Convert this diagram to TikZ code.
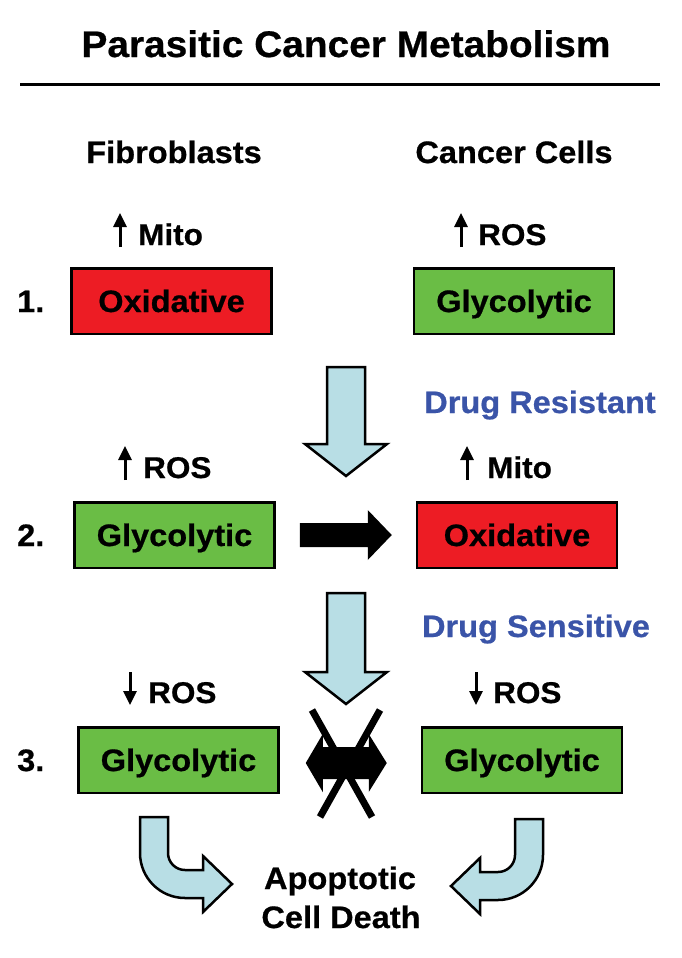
\documentclass[tikz,border=0pt]{standalone}
\usepackage{fontspec}
\setmainfont{Liberation Sans}[FakeStretch=1.05,BoldFeatures={FakeBold=0.6}]
\usetikzlibrary{arrows.meta,calc}
\definecolor{boxred}{RGB}{237,28,36}
\definecolor{boxgreen}{RGB}{106,189,69}
\definecolor{arrowblue}{RGB}{184,222,229}
\definecolor{drugblue}{RGB}{58,84,168}
\newcommand\fsz[1]{\fontsize{#1}{#1}\selectfont\bfseries}
\begin{document}
\begin{tikzpicture}[x=1pt,y=-1pt,
  box/.style={draw=black,line width=2.5pt,minimum width=200pt,minimum height=65.5pt,inner sep=0pt,text height=22pt,text depth=0pt,font=\fsz{31}},
  redbox/.style={box,fill=boxred},
  greenbox/.style={box,fill=boxgreen},
  lbl/.style={inner sep=0pt,anchor=base west,font=\fsz{30}},
  headtxt/.style={inner sep=0pt,anchor=base,font=\fsz{31}},
  num/.style={inner sep=0pt,anchor=base west,font=\fsz{31}},
  drug/.style={inner sep=0pt,anchor=base,font=\fsz{31},text=drugblue},
  smallarr/.style={line width=3pt,-{Triangle[width=13pt,length=14pt]}},
  bigarrow/.style={draw=black,line width=2.5pt,fill=arrowblue,line join=miter},
]
\fill[white] (0,0) rectangle (681,958);
\useasboundingbox (0,0) rectangle (681,958);

% title and rule
\node[headtxt,font=\fsz{37}] (title) at (346,57) {Parasitic Cancer Metabolism};
\coordinate (rl) at (20,84);
\coordinate (rr) at (660,84);
\draw[line width=3pt] (rl) -- (rr);

% column headers
\node[headtxt] (fib) at (174,163) {Fibroblasts};
\node[headtxt] (can) at (514,163) {Cancer Cells};

% row 1
\node[num] (n1) at (17,312) {1.};
\node[redbox] (o1) at (171.5,301) {Oxidative};
\node[greenbox] (g1) at (514,301) {Glycolytic};
\node[lbl] (l1a) at (138,245) {Mito};
\node[lbl] (l1b) at (478,245) {ROS};
\draw[smallarr] ([xshift=-18pt,yshift=-2pt]l1a.base west) -- ++(0,-34);
\draw[smallarr] ([xshift=-17pt,yshift=-2pt]l1b.base west) -- ++(0,-34);

\node[drug] (dres) at (540,413) {Drug Resistant};

% row 2
\node[num] (n2) at (17,546) {2.};
\node[greenbox] (g2) at (174.5,535) {Glycolytic};
\node[redbox] (o2) at (517,535) {Oxidative};
\node[lbl] (l2a) at (143,478) {ROS};
\node[lbl] (l2b) at (487,478) {Mito};
\draw[smallarr] ([xshift=-18pt,yshift=-2pt]l2a.base west) -- ++(0,-34);
\draw[smallarr] ([xshift=-20pt,yshift=-2pt]l2b.base west) -- ++(0,-34);

\node[drug] (dsen) at (536,637) {Drug Sensitive};

% row 3
\node[num] (n3) at (17,771) {3.};
\node[greenbox] (g3) at (178.5,760) {Glycolytic};
\node[greenbox] (g3b) at (522,760) {Glycolytic};
\node[lbl] (l3a) at (148,703) {ROS};
\node[lbl] (l3b) at (493,703) {ROS};
\draw[smallarr] ([xshift=-18pt,yshift=31pt]l3a.base west) -- ++(0,33);
\draw[smallarr] ([xshift=-17pt,yshift=31pt]l3b.base west) -- ++(0,33);

% apoptotic cell death
\node[headtxt] (ap1) at (340,889) {Apoptotic};
\node[headtxt] (ap2) at (341,928) {Cell Death};

% light blue down arrows
\draw[bigarrow] (327,367) -- (365,367) -- (365,444) -- (387,444) -- (346,476) -- (305,444) -- (327,444) -- cycle;
\draw[bigarrow] (327,593) -- (365,593) -- (365,672) -- (387,672) -- (346,704) -- (305,672) -- (327,672) -- cycle;

% black arrow row 2
\coordinate (bs) at ($(g2.east)+(24,0)$);
\coordinate (bt) at ($(o2.west)+(-24,0)$);
\fill[black] ($(bs)+(0,-12)$) -- ($(bt)+(-24,-12)$) -- ($(bt)+(-24,-25)$) -- (bt) -- ($(bt)+(-24,25)$) -- ($(bt)+(-24,12)$) -- ($(bs)+(0,12)$) -- cycle;

% blocked double arrow row 3
\coordinate (dl) at ($(g3.east)+(26,3)$);
\coordinate (dr) at ($(g3b.west)+(-34,3)$);
\fill[black] (dl) -- ($(dl)+(17,-29)$) -- ($(dl)+(17,-16)$) -- ($(dr)+(-18,-16)$) -- ($(dr)+(-18,-29)$) -- (dr) -- ($(dr)+(-18,29)$) -- ($(dr)+(-18,16)$) -- ($(dl)+(17,16)$) -- ($(dl)+(17,29)$) -- cycle;
\coordinate (x1a) at (312,710);
\coordinate (x1b) at (372,817);
\coordinate (x2a) at (380,710);
\coordinate (x2b) at (320,817);
\draw[line width=7pt] (x1a) -- (x1b);
\draw[line width=7pt] (x2a) -- (x2b);

% curved arrows to apoptotic cell death
\draw[bigarrow] (140,817) -- (168,817) -- (168,853) .. controls (168,862.4) and (175.6,870) .. (185,870) -- (203,870) -- (203,856) -- (232,884) -- (203,912) -- (203,898) -- (185,898) .. controls (160.1,898) and (140,877.9) .. (140,853) -- cycle;
\draw[bigarrow] (543,819) -- (515,819) -- (515,855) .. controls (515,864.4) and (507.4,872) .. (498,872) -- (480,872) -- (480,858) -- (451,886) -- (480,914) -- (480,900) -- (498,900) .. controls (522.9,900) and (543,879.9) .. (543,855) -- cycle;
\end{tikzpicture}
\end{document}
